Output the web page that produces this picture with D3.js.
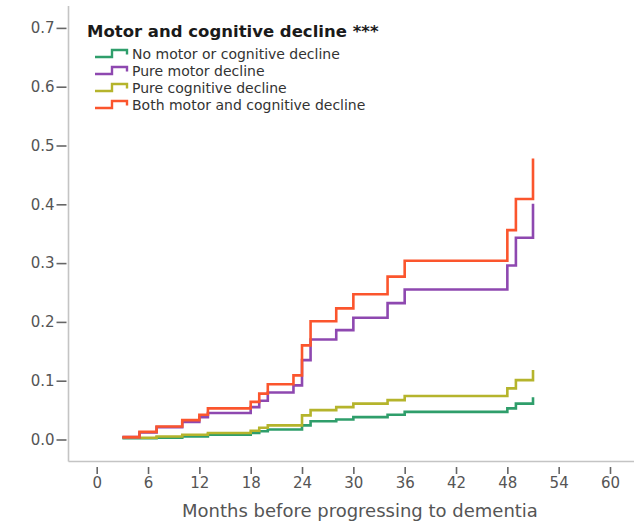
<!DOCTYPE html>
<html>
<head>
<meta charset="utf-8">
<script src="https://cdn.jsdelivr.net/npm/d3@7"></script>
<style>
  html, body { margin: 0; padding: 0; background: #ffffff; }
  svg { display: block; }
</style>
</head>
<body>
<svg id="chart" width="634" height="522"></svg>
<script>
// Cumulative incidence of dementia by motor / cognitive decline group
const seriesNames = [
  "No motor or cognitive decline",
  "Pure motor decline",
  "Pure cognitive decline",
  "Both motor and cognitive decline"
];
const seriesColors = ["#2f9e6b", "#8e48b0", "#b5b42c", "#fb552d"];

// Event times (months) and cumulative proportions per group
const monthsNone = [3, 7, 10, 13, 18, 19, 20, 24, 25, 28, 30, 34, 36, 48, 49, 51];
const valuesNone = [0.002, 0.003, 0.005, 0.008, 0.011, 0.014, 0.017, 0.024, 0.031, 0.034, 0.038, 0.042, 0.047, 0.053, 0.061, 0.072];

const monthsMotor = [3, 5, 7, 10, 12, 13, 18, 19, 20, 23, 24, 25, 28, 30, 34, 36, 48, 49, 51];
const valuesMotor = [0.004, 0.012, 0.021, 0.030, 0.038, 0.045, 0.055, 0.066, 0.080, 0.092, 0.135, 0.170, 0.186, 0.207, 0.232, 0.255, 0.296, 0.343, 0.401];

const monthsCog = [3, 7, 10, 13, 18, 19, 20, 24, 25, 28, 30, 34, 36, 48, 49, 51];
const valuesCog = [0.003, 0.005, 0.008, 0.011, 0.015, 0.020, 0.024, 0.041, 0.050, 0.055, 0.061, 0.067, 0.074, 0.087, 0.101, 0.118];

const monthsBoth = [3, 5, 7, 10, 12, 13, 18, 19, 20, 23, 24, 25, 28, 30, 34, 36, 48, 49, 51];
const valuesBoth = [0.004, 0.013, 0.022, 0.033, 0.042, 0.053, 0.064, 0.078, 0.094, 0.109, 0.160, 0.201, 0.223, 0.247, 0.277, 0.304, 0.356, 0.409, 0.478];

const xTicks = [0, 6, 12, 18, 24, 30, 36, 42, 48, 54, 60];
const yTicks = [0.0, 0.1, 0.2, 0.3, 0.4, 0.5, 0.6, 0.7];

const legendTitle = "Motor and cognitive decline ***";
const xTitle = "Months before progressing to dementia";

const series = [
  { months: monthsNone,  values: valuesNone },
  { months: monthsMotor, values: valuesMotor },
  { months: monthsCog,   values: valuesCog },
  { months: monthsBoth,  values: valuesBoth }
].map((s, i) => ({ name: seriesNames[i], color: seriesColors[i],
  points: s.months.map((m, j) => [m, s.values[j]]) }));

const svg = d3.select("#chart");
const font = "'DejaVu Sans', Verdana, sans-serif";
const axisGray = "#c4c4c4";
const textGray = "#555555";

const x = d3.scaleLinear().domain([0, 60]).range([96.7, 610]);
const y = d3.scaleLinear().domain([0, 0.7]).range([439.5, 27.9]);

const frameLeft = 68.5, frameBottom = 461.5, frameRight = 634, frameTop = 6;

// Frame: left and bottom rules
svg.append("line")
  .attr("x1", frameLeft).attr("x2", frameLeft)
  .attr("y1", frameTop).attr("y2", frameBottom)
  .attr("stroke", axisGray).attr("stroke-width", 1.6);
svg.append("line")
  .attr("x1", frameLeft).attr("x2", frameRight)
  .attr("y1", frameBottom).attr("y2", frameBottom)
  .attr("stroke", axisGray).attr("stroke-width", 1.6);

// Y axis ticks and labels
const yAxis = svg.append("g")
  .attr("transform", "translate(66.5,0)")
  .call(d3.axisLeft(y).tickValues(yTicks).tickFormat(d3.format(".1f"))
    .tickSize(10).tickPadding(2));
yAxis.select(".domain").remove();
yAxis.selectAll(".tick line").attr("stroke", "#666").attr("stroke-width", 1.6);
yAxis.selectAll(".tick text")
  .attr("fill", textGray).style("font-family", font).style("font-size", "15px");

// X axis ticks and labels
const xAxis = svg.append("g")
  .attr("transform", "translate(0,467)")
  .call(d3.axisBottom(x).tickValues(xTicks).tickFormat(d3.format("d"))
    .tickSize(7).tickPadding(3));
xAxis.select(".domain").remove();
xAxis.selectAll(".tick line").attr("stroke", "#666").attr("stroke-width", 1.6);
xAxis.selectAll(".tick text")
  .attr("fill", textGray).style("font-family", font).style("font-size", "15px");

svg.append("text")
  .attr("x", 360).attr("y", 517)
  .attr("text-anchor", "middle")
  .attr("fill", textGray)
  .style("font-family", font).style("font-size", "18px")
  .text(xTitle);

// Step curves
const line = d3.line()
  .x(d => x(d[0])).y(d => y(d[1]))
  .curve(d3.curveStepAfter);

const drawOrder = [0, 2, 1, 3];
svg.append("g").selectAll("path")
  .data(drawOrder.map(i => series[i]))
  .join("path")
  .attr("d", d => line(d.points))
  .attr("fill", "none")
  .attr("stroke", d => d.color)
  .attr("stroke-width", 2.6)
  .attr("stroke-linejoin", "miter");

// Legend
const legend = svg.append("g");
legend.append("text")
  .attr("x", 87).attr("y", 37)
  .attr("fill", "#1a1a1a")
  .style("font-family", font).style("font-size", "16.5px").style("font-weight", "bold")
  .text(legendTitle);

const rowY = d => 53.5 + 17 * d;
const rows = legend.selectAll("g.row")
  .data(series)
  .join("g").attr("class", "row")
  .attr("transform", (d, i) => `translate(0,${rowY(i)})`);

rows.append("path")
  .attr("d", "M95,3.5 H112 V-3.5 H127 V1")
  .attr("fill", "none")
  .attr("stroke", d => d.color)
  .attr("stroke-width", 2.4);

rows.append("text")
  .attr("x", 132).attr("y", 5.5)
  .attr("fill", "#333")
  .style("font-family", font).style("font-size", "14px")
  .text(d => d.name);
</script>
</body>
</html>
